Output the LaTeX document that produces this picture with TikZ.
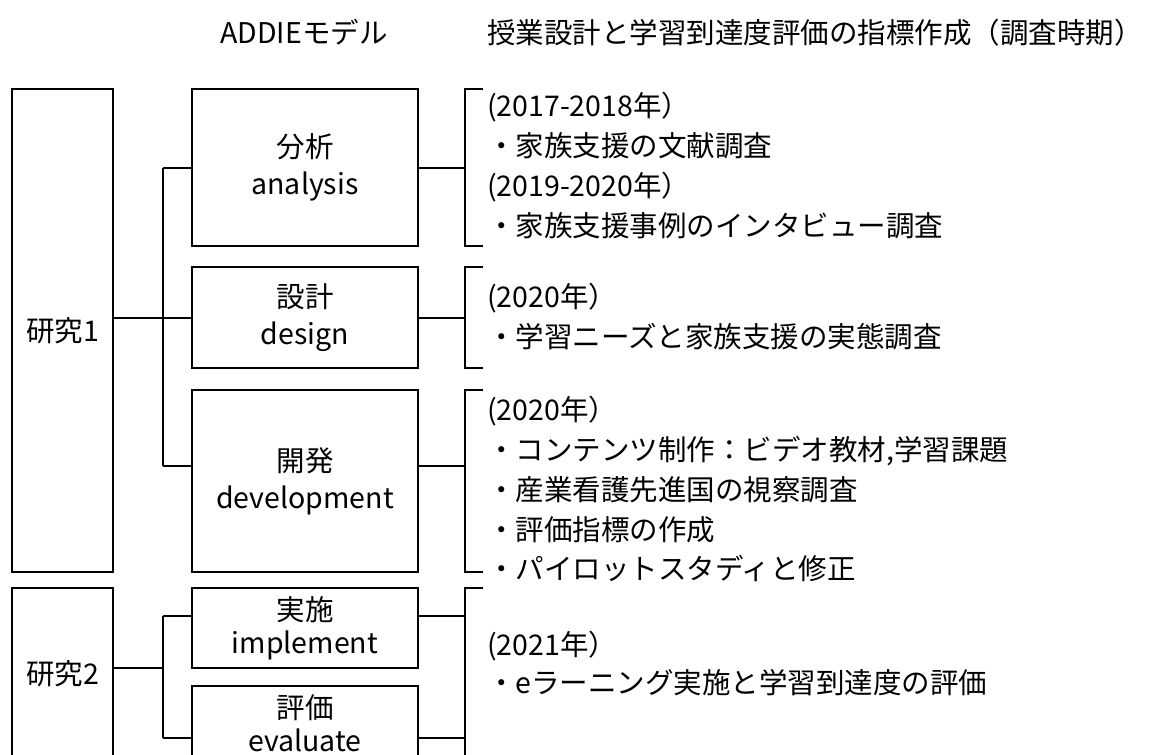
\documentclass[tikz,border=0pt]{standalone}
\usepackage{fontspec}
\setmainfont{Noto Sans CJK JP}
\begin{document}
\begin{tikzpicture}[x=1pt,y=-1pt,
  lbl/.style={font=\fontsize{28.5}{37}\selectfont},
  tight/.style={font=\fontsize{28.5}{33}\selectfont},
  leftbox/.style={draw, line width=2.4pt, minimum width=101pt, inner sep=0pt, lbl},
  midbox/.style={draw, line width=2pt, minimum width=226pt, inner sep=0pt, align=center, lbl},
  conn/.style={line width=2.4pt},
  txt/.style={anchor=west, inner sep=0pt, text height=25pt, text depth=3.5pt, lbl},
  head/.style={inner sep=0pt, text height=25pt, text depth=3.5pt, lbl}]
\useasboundingbox (0,0) rectangle (1152,755);

% headers
\node[head] (h1) at (304,33) {ADDIEモデル};
\node[head, anchor=west] (h2) at (487,33) {授業設計と学習到達度評価の指標作成（調査時期）};

% left boxes
\node[leftbox, minimum height=483pt] (r1) at (62.5,330.5) {研究1};
\node[leftbox, minimum height=172pt] (r2) at (62.5,674) {研究2};

% middle boxes
\node[midbox, minimum height=157pt] (m1) at (305,167.5) {分析\\analysis};
\node[midbox, minimum height=101pt] (m2) at (305,317.5) {設計\\design};
\node[midbox, minimum height=182pt] (m3) at (305,481) {開発\\development};
\node[midbox, tight, minimum height=80pt] (m4) at (305,628) {実施\\implement};
\node[midbox, tight, minimum height=74pt] (m5) at (305,723) {評価\\evaluate};

% left connectors
\coordinate (j1) at (163,168);
\coordinate (j2) at (163,318);
\coordinate (j3) at (163,466);
\draw[conn] (r1.east |- j2) -- (j2);
\draw[conn] (j1) -- (j3);
\draw[conn] (j1) -- (j1 -| m1.west);
\draw[conn] (j2) -- (j2 -| m2.west);
\draw[conn] (j3) -- (j3 -| m3.west);

\coordinate (k1) at (163,616);
\coordinate (k2) at (163,668);
\coordinate (k3) at (163,738);
\draw[conn] (r2.east |- k2) -- (k2);
\draw[conn] (k1) -- (k3);
\draw[conn] (k1) -- (k1 -| m4.west);
\draw[conn] (k3) -- (k3 -| m5.west);

% brackets
\coordinate (b1t) at (465,89);  \coordinate (b1b) at (465,246);
\coordinate (b2t) at (465,267); \coordinate (b2b) at (465,368);
\coordinate (b3t) at (465,390); \coordinate (b3b) at (465,572);
\coordinate (b4t) at (465,588); \coordinate (b4b) at (465,775);
\foreach \b in {b1,b2,b3,b4}{
  \draw[conn] ([xshift=18pt]\b t) -- (\b t) -- (\b b) -- ([xshift=18pt]\b b);
}

% right connectors
\draw[conn] (m1.east |- j1) -- (b1t |- j1);
\draw[conn] (m2.east |- j2) -- (b2t |- j2);
\draw[conn] (m3.east |- j3) -- (b3t |- j3);
\draw[conn] (m4.east |- k1) -- (b4t |- k1);
\draw[conn] (m5.east |- k3) -- (b4t |- k3);

% texts
\node[txt] (t11) at (487,106) {(2017-2018年）};
\node[txt] (t12) at (487,146) {・家族支援の文献調査};
\node[txt] (t13) at (487,186) {(2019-2020年）};
\node[txt] (t14) at (487,226) {・家族支援事例のインタビュー調査};

\node[txt] (t21) at (487,297) {(2020年）};
\node[txt] (t22) at (487,337) {・学習ニーズと家族支援の実態調査};

\node[txt] (t31) at (487,410) {(2020年）};
\node[txt] (t32) at (487,450) {・コンテンツ制作：ビデオ教材,学習課題};
\node[txt] (t33) at (487,490) {・産業看護先進国の視察調査};
\node[txt] (t34) at (487,530) {・評価指標の作成};
\node[txt] (t35) at (487,569) {・パイロットスタディと修正};

\node[txt] (t41) at (487,645) {(2021年）};
\node[txt] (t42) at (487,683) {・eラーニング実施と学習到達度の評価};
\end{tikzpicture}
\end{document}
